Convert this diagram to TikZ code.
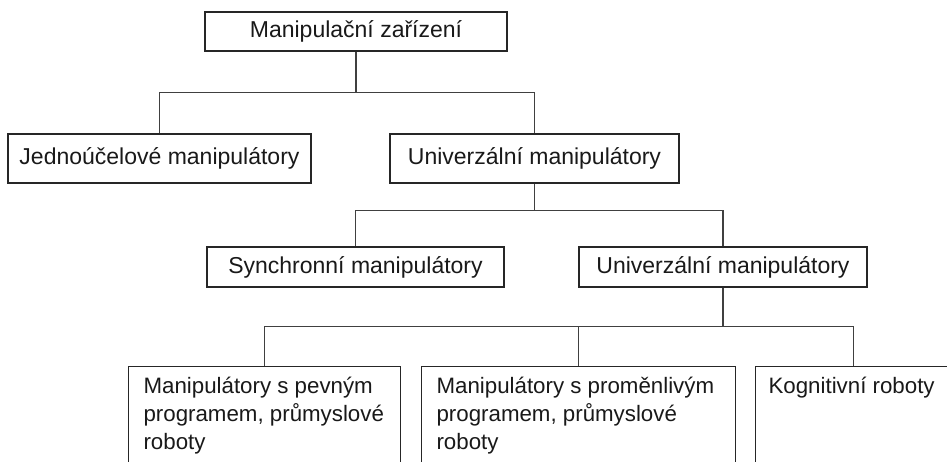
\documentclass[tikz,border=0pt]{standalone}
\usepackage{fontspec}
\setmainfont{Liberation Sans}
\usetikzlibrary{calc}
\begin{document}
\begin{tikzpicture}[x=1pt,y=-1pt,
  box/.style={draw=black!85, line width=1.1pt, inner sep=0pt, font=\fontsize{23}{27}\selectfont, text=black!90},
  conn/.style={draw=black!75, line width=1.1pt},
  tallbox/.style={draw=black!85, line width=1.1pt, inner xsep=15pt, inner ysep=7pt, anchor=north west, font=\fontsize{22.3}{28}\selectfont, text=black!90}
]
\useasboundingbox (0,0) rectangle (947,462);
\clip (0,0) rectangle (947,462);
\fill[white] (0,0) rectangle (947,462);

\node[box, minimum width=302pt, minimum height=39pt] (top) at (356,31.5) {Manipulační zařízení};
\node[box, minimum width=303pt, minimum height=49pt] (jedn) at (159.5,158.5) {Jednoúčelové manipulátory};
\node[box, minimum width=289pt, minimum height=49pt] (univA) at (534.5,158.5) {Univerzální manipulátory};
\node[box, minimum width=297pt, minimum height=40pt] (sync) at (355.5,267) {Synchronní manipulátory};
\node[box, minimum width=288pt, minimum height=40pt] (univB) at (723,267) {Univerzální manipulátory};

\node[tallbox] (pev) at (128,366) {\parbox[t][120pt][t]{242pt}{\raggedright\strut Manipulátory s pevným programem, průmyslové roboty}};
\node[tallbox] (prom) at (421,366) {\parbox[t][120pt][t]{284pt}{\raggedright\strut Manipulátory s proměnlivým programem, průmyslové roboty}};
\node[tallbox, inner xsep=13pt] (kog) at (755,366) {\parbox[t][120pt][t]{169pt}{\raggedright\strut\mbox{Kognitivní roboty}}};

\coordinate (j1) at ($(top.south)+(0,41)$);
\draw[conn] (top.south) -- (j1);
\draw[conn] (j1) -| (jedn.north);
\draw[conn] (j1) -| (univA.north);

\coordinate (j2) at ($(univA.south)+(0,27)$);
\draw[conn] (univA.south) -- (j2);
\draw[conn] (j2) -| (sync.north);
\draw[conn] (j2) -| (univB.north);

\coordinate (j3) at ($(univB.south)+(0,39)$);
\draw[conn] (univB.south) -- (j3);
\draw[conn] (j3) -| (pev.north);
\draw[conn] (j3) -| (prom.north);
\draw[conn] (j3) -| (kog.north);
\end{tikzpicture}
\end{document}
